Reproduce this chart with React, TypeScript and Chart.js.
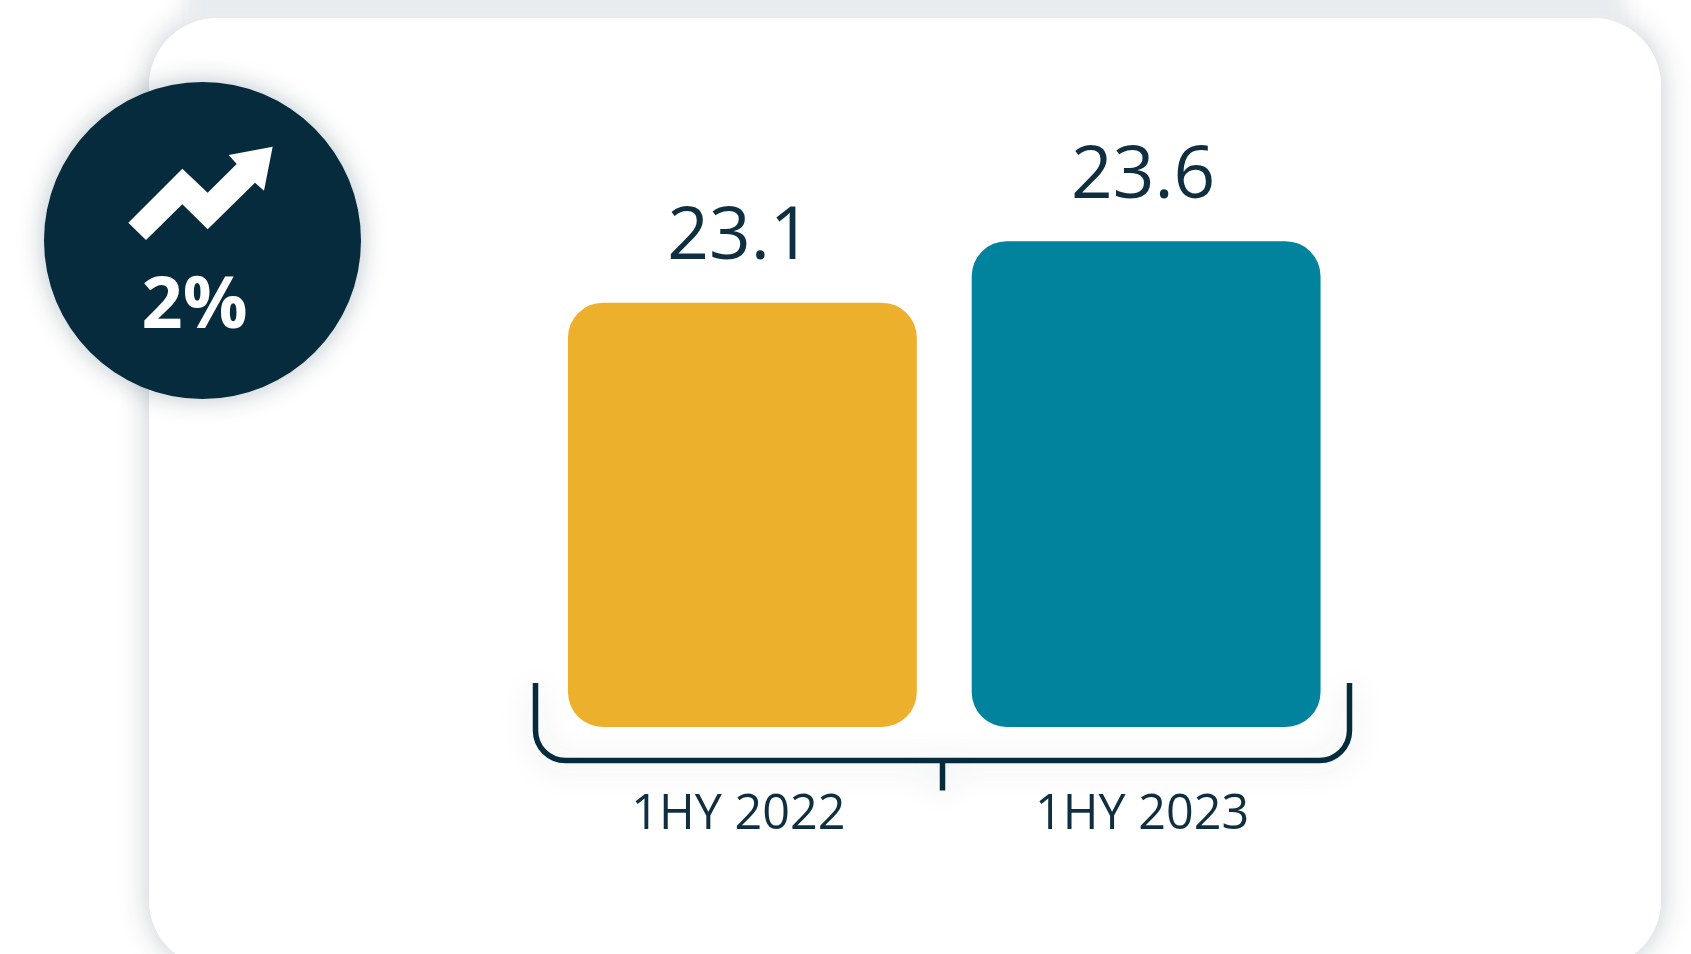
import React, { useEffect, useRef } from "react";
import { Chart, registerables } from "chart.js";

Chart.register(...registerables);

const categories = ["1HY 2022", "1HY 2023"];
const values = [23.1, 23.6];
const barColors = ["#ECB02C", "#01839E"];
const changeLabel = "2%";
const AXIS_MIN = 19.65;
const AXIS_MAX = 24.65;
const DARK = "#062B3C";
const TEXT = "#0F2F40";
const FONT = '"Open Sans", sans-serif';

const valueLabels = {
  id: "valueLabels",
  afterDatasetsDraw(chart: any) {
    const ctx = chart.ctx;
    const meta = chart.getDatasetMeta(0);
    ctx.save();
    ctx.fillStyle = TEXT;
    ctx.font = `400 73px ${FONT}`;
    ctx.textAlign = "center";
    ctx.textBaseline = "alphabetic";
    meta.data.forEach((bar: any, i: number) => {
      ctx.fillText(values[i].toFixed(1), bar.x - 3, bar.y - 43.5);
    });
    ctx.restore();
  },
};

const bracket = {
  id: "bracket",
  beforeDatasetsDraw(chart: any) {
    const { ctx, chartArea } = chart;
    const left = chartArea.left - 5;
    const right = chartArea.right + 1.5;
    const top = chartArea.bottom - 44;
    const y = chartArea.bottom + 33.5;
    const r = 30;
    const mid = (left + right) / 2;
    ctx.save();
    ctx.strokeStyle = DARK;
    ctx.lineWidth = 5.5;
    ctx.shadowColor = "rgba(6,43,60,0.18)";
    ctx.shadowBlur = 32;
    ctx.shadowOffsetY = 4;
    ctx.beginPath();
    ctx.moveTo(left, top);
    ctx.lineTo(left, y - r);
    ctx.arcTo(left, y, left + r, y, r);
    ctx.lineTo(right - r, y);
    ctx.arcTo(right, y, right, y - r, r);
    ctx.lineTo(right, top);
    ctx.moveTo(mid, y);
    ctx.lineTo(mid, y + 30);
    ctx.stroke();
    ctx.restore();
  },
};

export default function App() {
  const ref = useRef<HTMLCanvasElement>(null);

  useEffect(() => {
    document.body.style.margin = "0";
    document.body.style.background = "#fff";
    const chart = new Chart(ref.current as HTMLCanvasElement, {
      type: "bar",
      data: {
        labels: categories,
        datasets: [
          {
            data: values,
            base: AXIS_MIN,
            backgroundColor: barColors,
            borderRadius: 35,
            borderSkipped: false,
            categoryPercentage: 1,
            barPercentage: 0.864,
          },
        ],
      },
      plugins: [bracket, valueLabels],
      options: {
        animation: false,
        responsive: false,
        layout: { padding: { left: 540.5, right: 343, top: 112, bottom: 0 } },
        plugins: { legend: { display: false }, tooltip: { enabled: false } },
        scales: {
          y: { display: false, min: AXIS_MIN, max: AXIS_MAX },
          x: {
            afterFit: (s: any) => {
              s.height = 227;
            },
            grid: { display: false },
            border: { display: false },
            ticks: {
              color: TEXT,
              font: { family: FONT, size: 48.5, weight: "400" },
              padding: 51,
              labelOffset: -4,
              maxRotation: 0,
            },
          },
        },
      },
    } as any);
    return () => chart.destroy();
  }, []);

  return (
    <div style={{ position: "relative", width: 1691, height: 954, overflow: "hidden", background: "#fff" }}>
      <div
        style={{
          position: "absolute",
          left: 149,
          top: 18,
          width: 1512,
          height: 950,
          borderRadius: 68,
          background: "#fff",
          boxShadow: "0 0 30px rgba(6,43,60,0.24)",
        }}
      />
      <div
        style={{
          position: "absolute",
          left: 185,
          top: -30,
          width: 1440,
          height: 60,
          background: "#E9ECEE",
          filter: "blur(9px)",
        }}
      />
      <div
        style={{
          position: "absolute",
          left: 149,
          top: 18,
          width: 1512,
          height: 950,
          borderRadius: 68,
          background: "#fff",
        }}
      />
      <canvas
        ref={ref}
        width={1691}
        height={954}
        style={{ position: "absolute", left: 0, top: 0, display: "block" }}
      />
      <div
        style={{
          position: "absolute",
          left: 44,
          top: 82,
          width: 317,
          height: 317,
          borderRadius: "50%",
          background: DARK,
          boxShadow: "0 0 26px rgba(6,43,60,0.28)",
        }}
      />
      <svg
        viewBox="0 0 1260 1260"
        width={420}
        height={420}
        style={{ position: "absolute", left: 0, top: 0 }}
      >
        <polygon
          fill="#fff"
          points="385,668 547,506 623,578 710,492 686,465 818,440 792,572 765,548 623,688 547,613 438,720"
        />
      </svg>
      <div
        style={{
          position: "absolute",
          left: 44,
          top: 250,
          width: 301,
          textAlign: "center",
          color: "#fff",
          fontFamily: FONT,
          fontWeight: 700,
          fontSize: 72,
          lineHeight: "100px",
        }}
      >
        {changeLabel}
      </div>
    </div>
  );
}
